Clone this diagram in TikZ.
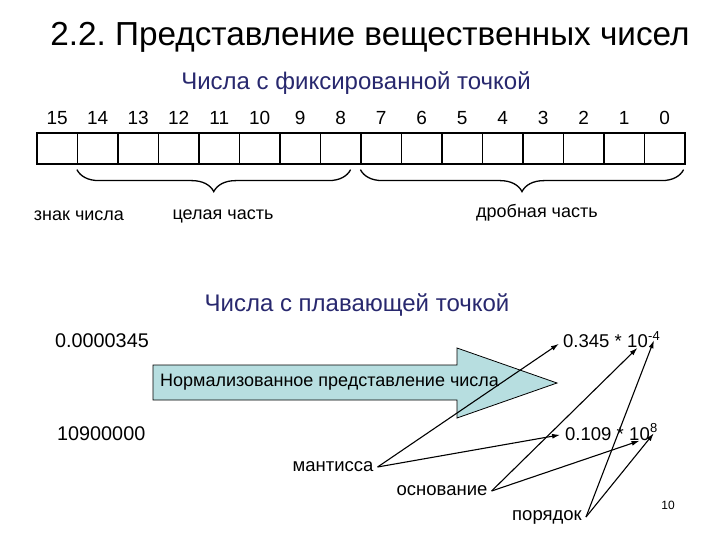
\documentclass[tikz,border=0pt]{standalone}
\usepackage{fontspec}
\setmainfont{Liberation Sans}
\usetikzlibrary{arrows.meta,positioning,decorations.pathreplacing}
\definecolor{hdrblue}{RGB}{40,40,110}
\definecolor{arrfill}{RGB}{183,222,224}
\frenchspacing

\begin{document}
\begin{tikzpicture}[x=1pt, y=-1pt,
  cell/.style={draw, line width=1.2pt, minimum width=40.5pt,
               minimum height=31pt, inner sep=0pt},
  bit/.style={font=\fontsize{19}{21}\selectfont, inner sep=0pt},
  lbl/.style={font=\fontsize{18}{21}\selectfont, inner sep=0pt},
  word/.style={font=\fontsize{18.5}{21}\selectfont, inner sep=4pt},
  num/.style={font=\fontsize{18.5}{22}\selectfont, inner sep=0pt},
  supnum/.style={font=\fontsize{13}{15}\selectfont, inner sep=0pt},
  hdr/.style={font=\fontsize{24}{28}\selectfont, text=hdrblue},
  brc/.style={decorate, decoration={brace, mirror, amplitude=22pt},
              line width=1.3pt},
  arr/.style={-{Latex[length=8pt,width=5pt]}, line width=1.1pt}]
\useasboundingbox (0,0) rectangle (720,540);

\node[font=\fontsize{33.3}{38}\selectfont] (title) at (370,37)
  {2.2. Представление вещественных чисел};

% fixed point
\node[hdr] (fixed) at (356,83) {Числа с фиксированной точкой};
\foreach \k in {0,...,15} {
  \pgfmathtruncatemacro\b{15-\k}
  \node[cell] (c\b) at (57.25+40.5*\k,148.5) {};
  \node[bit, above=8pt of c\b] (lb\b) {\b};
}
\draw[brc] ([yshift=-5pt]c14.south west) -- ([xshift=-11pt,yshift=-5pt]c8.south east);
\draw[brc] ([yshift=-5pt]c7.south west) -- ([xshift=-2pt,yshift=-5pt]c0.south east);
\node[lbl] (sign) at (79,216) {знак числа};
\node[lbl] (intp) at (223,216) {целая часть};
\node[lbl] (frac) at (537,213) {дробная часть};

% floating point
\node[hdr] (float) at (357,305) {Числа с плавающей точкой};
\draw[fill=arrfill, line width=0.8pt] (153,365) -- (457,365) -- (457,348)
  -- (557,383) -- (457,418) -- (457,400) -- (153,400) -- cycle;
\node[lbl, anchor=west] (norm) at (160,382) {Нормализованное представление числа};

\node[num, font=\fontsize{19.8}{22}\selectfont, anchor=west] (x1) at (55,341) {0.0000345};
\node[num, font=\fontsize{19.8}{22}\selectfont, anchor=west] (x2) at (57,434) {10900000};
\node[num, anchor=west] (m1) at (563,341) {0.345 *};
\node[num, right=5pt of m1] (base1) {10};
\node[supnum, anchor=south west] (e1) at ([yshift=-6pt]base1.north east) {-4};
\node[num, anchor=west] (m2) at (565,434) {0.109 *};
\node[num, right=5pt of m2] (base2) {10};
\node[supnum, anchor=south west] (e2) at ([yshift=-6pt]base2.north east) {8};

\node[word] (mant) at (333,467) {мантисса};
\node[word] (osn) at (442,491) {основание};
\node[word] (por) at (547,517) {порядок};
\node[font=\fontsize{12}{14}\selectfont] (page) at (668,505) {10};

\draw[arr, shorten >=5pt] (mant.east) -- (m1.west);
\draw[arr, shorten >=5pt] (mant.east) -- (m2.west);
\draw[arr] (osn.east) -- (base1.south);
\draw[arr] (osn.east) -- (base2.south);
\draw[arr] (por.east) -- (e1.south);
\draw[arr] (por.east) -- (e2.south);
\end{tikzpicture}
\end{document}
